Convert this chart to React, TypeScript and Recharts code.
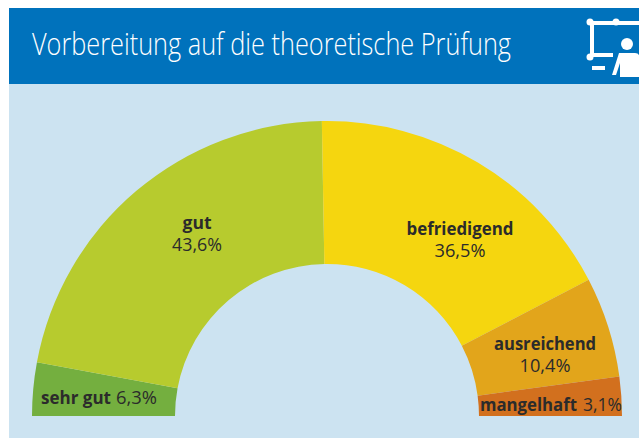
import React from 'react';
import { PieChart, Pie, Cell } from 'recharts';

const grades = ['sehr gut', 'gut', 'befriedigend', 'ausreichend', 'mangelhaft'];
const percentLabels = ['6,3%', '43,6%', '36,5%', '10,4%', '3,1%'];
// arc sizes, they differ a bit from the printed percentages
const arcSizes = [10.5, 78.5, 63.5, 19.8, 7.7];
const colors = ['#74AF3F', '#B7CB2E', '#F5D60F', '#E2A51B', '#D2701E'];

// label anchors
const labelX = [99, 197, 460, 545, 551];
const labelY = [404, 229, 235, 350, 411];
const nameWidths = [70, 29, 107, 102, 97];
const percentWidths = [41, 50, 51, 51, 39];

const font = '"Open Sans", sans-serif';
const textColor = '#2b2b2b';

const chartData = grades.map((name, i) => ({ name, size: arcSizes[i] }));

const renderLabel = ({ index }: any) => {
  const x = labelX[index];
  const y = labelY[index];
  const nameW = nameWidths[index];
  const pctW = percentWidths[index];
  const inline = index === 0 || index === 4;
  if (inline) {
    const total = index === 0 ? 116 : 142;
    const left = x - total / 2;
    return (
      <g key={index} fontFamily={font} fontSize={18} fill={textColor}>
        <text x={left} y={y} fontWeight={700} textLength={nameW} lengthAdjust="spacingAndGlyphs">{grades[index]}</text>
        <text x={left + total - pctW} y={y} fontWeight={400} textLength={pctW} lengthAdjust="spacingAndGlyphs">{percentLabels[index]}</text>
      </g>
    );
  }
  return (
    <g key={index} fontFamily={font} fontSize={18} fill={textColor}>
      <text x={x - nameW / 2} y={y} fontWeight={700} textLength={nameW} lengthAdjust="spacingAndGlyphs">{grades[index]}</text>
      <text x={x - pctW / 2} y={y + 22} fontWeight={400} textLength={pctW} lengthAdjust="spacingAndGlyphs">{percentLabels[index]}</text>
    </g>
  );
};

const TeacherIcon = () => (
  <svg width={639} height={84} style={{ position: 'absolute', left: 0, top: 0 }}>
    <g stroke="#fff" strokeWidth={4} fill="none">
      <path d="M639 23 H592 V55 H613" />
      <path d="M592 68 H605" />
    </g>
    <circle cx={590} cy={22} r={3.5} fill="#fff" />
    <circle cx={616} cy={22} r={3.5} fill="#fff" />
    <circle cx={590} cy={57} r={3.5} fill="#fff" />
    <circle cx={627} cy={44} r={6} fill="#fff" />
    <path d="M619 53 H635 Q638 53 639 55 V77 H620 V63 L616 75 H612 Z" fill="#fff" />
  </svg>
);

const App = () => {
  return (
    <div style={{ position: 'absolute', left: 0, top: 0, width: 639, height: 438, background: '#fff', overflow: 'hidden' }}>
      <div style={{ position: 'absolute', left: 9, top: 84, width: 630, height: 354, background: '#CCE3F1' }} />
      <div style={{ position: 'absolute', left: 9, top: 8, width: 630, height: 76, background: '#0072BC' }} />
      <svg width={639} height={84} style={{ position: 'absolute', left: 0, top: 0 }}>
        <text x={32} y={55} fontFamily={font} fontWeight={300} fontSize={32} fill="#fff" textLength={479} lengthAdjust="spacingAndGlyphs">
          Vorbereitung auf die theoretische Prüfung
        </text>
      </svg>
      <TeacherIcon />
      <div style={{ position: 'absolute', left: 0, top: 0 }}>
        <PieChart width={639} height={438} margin={{ top: 0, right: 0, bottom: 0, left: 0 }}>
          <Pie
            data={chartData}
            dataKey="size"
            nameKey="name"
            cx={327}
            cy={416}
            startAngle={180}
            endAngle={0}
            innerRadius={152}
            outerRadius={295}
            paddingAngle={0}
            stroke="none"
            label={renderLabel}
            labelLine={false}
            isAnimationActive={false}
          >
            {chartData.map((entry, i) => (
              <Cell key={entry.name} fill={colors[i]} />
            ))}
          </Pie>
        </PieChart>
      </div>
    </div>
  );
};

export default App;
